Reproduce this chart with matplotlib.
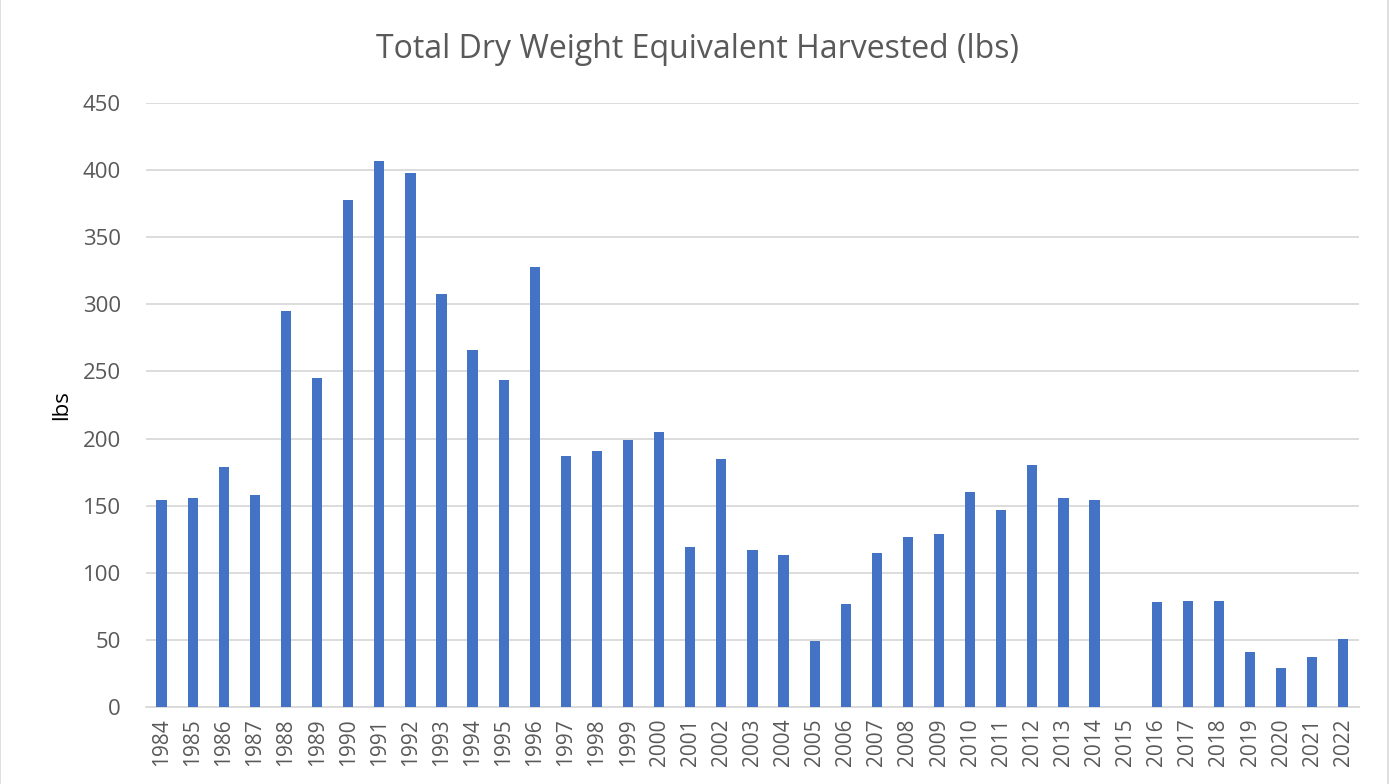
import matplotlib.pyplot as plt
import numpy as np
from matplotlib.patches import Rectangle

plt.rcParams.update({
    "font.family": ["Open Sans", "DejaVu Sans"],
    "text.color": "#595959",
    "xtick.color": "#595959",
    "ytick.color": "#595959",
})

BAR_BLUE = "#4472C4"
GRID_GRAY = "#d9d9d9"

years = [str(y) for y in range(1984, 2023)]
lbs = [154, 156, 179, 158, 295, 245, 378, 407, 398, 308,
       266, 244, 328, 187, 191, 199, 205, 119, 185, 117,
       113, 49, 77, 115, 127, 129, 160, 147, 180, 156,
       154, 0, 78, 79, 79, 41, 29, 37, 51]
y_ticks = [0, 50, 100, 150, 200, 250, 300, 350, 400, 450]

fig = plt.figure(figsize=(13.95, 7.84), dpi=100)
ax = fig.add_axes([0.1047, 0.0982, 0.8694, 0.7704])

x = np.arange(len(years))
ax.bar(x, lbs, width=0.33, color=BAR_BLUE, edgecolor="none", zorder=3)

ax.set_xlim(-0.5, len(years) - 0.5)
ax.set_ylim(0, 450)
ax.set_yticks(y_ticks)
ax.set_xticks(x)
ax.set_xticklabels(years, rotation=90, fontsize=15)
ax.tick_params(axis="y", labelsize=16, length=0, pad=18)
ax.tick_params(axis="x", length=0, pad=8)
ax.yaxis.grid(True, color=GRID_GRAY, linewidth=1.3, zorder=0)
ax.set_axisbelow(True)
for s in ["top", "right", "left"]:
    ax.spines[s].set_visible(False)
ax.spines["bottom"].set_color(GRID_GRAY)
ax.spines["bottom"].set_linewidth(1.3)

ax.set_ylabel("lbs", fontsize=16, labelpad=8)
fig.text(0.5, 0.937, "Total Dry Weight Equivalent Harvested (lbs)",
         ha="center", va="center", fontsize=23, color="#595959")

fig.patches.append(Rectangle((0.0, -0.01), 0.995, 1.02, transform=fig.transFigure,
                             fill=False, edgecolor=GRID_GRAY, linewidth=1.2))

plt.savefig("out.png", dpi=100, facecolor="white")
